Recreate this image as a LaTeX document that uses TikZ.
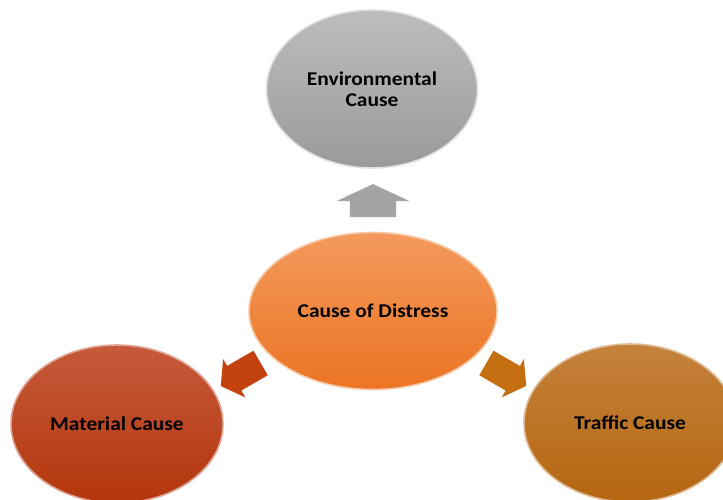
\documentclass[tikz,border=0pt]{standalone}
\usepackage{fontspec}
\setmainfont{Carlito}[FakeStretch=1.1]
\usetikzlibrary{shapes.geometric,shapes.arrows}
\definecolor{envtop}{HTML}{BDBDBD}
\definecolor{envbot}{HTML}{9A9A9A}
\definecolor{ctrtop}{HTML}{F39A5C}
\definecolor{ctrbot}{HTML}{EC7424}
\definecolor{mattop}{HTML}{C65A3C}
\definecolor{matbot}{HTML}{B3360A}
\definecolor{trftop}{HTML}{C4823C}
\definecolor{trfbot}{HTML}{B56610}
\definecolor{arrgray}{HTML}{A4A4A4}
\definecolor{arrred}{HTML}{C4420E}
\definecolor{arrorg}{HTML}{C47012}
\tikzset{
  bubble/.style={ellipse, inner sep=0pt, align=center,
    font=\fontsize{19.5}{21}\selectfont\bfseries, text=black,
    line width=1.6pt},
  blockarrow/.style={single arrow, inner xsep=0pt, draw=none,
    single arrow head indent=0pt}
}
\begin{document}
\begin{tikzpicture}[x=1pt,y=-1pt]
\useasboundingbox (0,0) rectangle (723,499);
\fill[white] (0,0) rectangle (723,499);
% bubbles
\node[bubble, minimum width=211pt, minimum height=158pt,
  top color=envtop, bottom color=envbot, draw=white!55!envtop]
  (env) at (372,89) {Environmental\\Cause};
\node[bubble, minimum width=248pt, minimum height=157pt,
  top color=ctrtop, bottom color=ctrbot, draw=white!45!ctrtop]
  (ctr) at (373,311) {Cause of Distress};
\node[bubble, minimum width=212pt, minimum height=158pt,
  top color=mattop, bottom color=matbot, draw=white!45!mattop]
  (mat) at (117,424) {Material Cause};
\node[bubble, minimum width=212pt, minimum height=158pt,
  top color=trftop, bottom color=trfbot, draw=white!45!trftop]
  (trf) at (630,423) {Traffic Cause};
% arrows
\node[blockarrow, fill=arrgray, minimum height=33pt, inner ysep=23pt,
  single arrow head extend=13.5pt, single arrow tip angle=130,
  rotate=90] (aup) at (373,206) {};
\node[blockarrow, fill=arrred, minimum height=46pt, inner ysep=14pt,
  single arrow head extend=8pt, single arrow tip angle=110,
  rotate=210] (aleft) at (245,372) {};
\node[blockarrow, fill=arrorg, minimum height=46pt, inner ysep=14pt,
  single arrow head extend=8pt, single arrow tip angle=110,
  rotate=-30] (aright) at (502,372) {};
\end{tikzpicture}
\end{document}
